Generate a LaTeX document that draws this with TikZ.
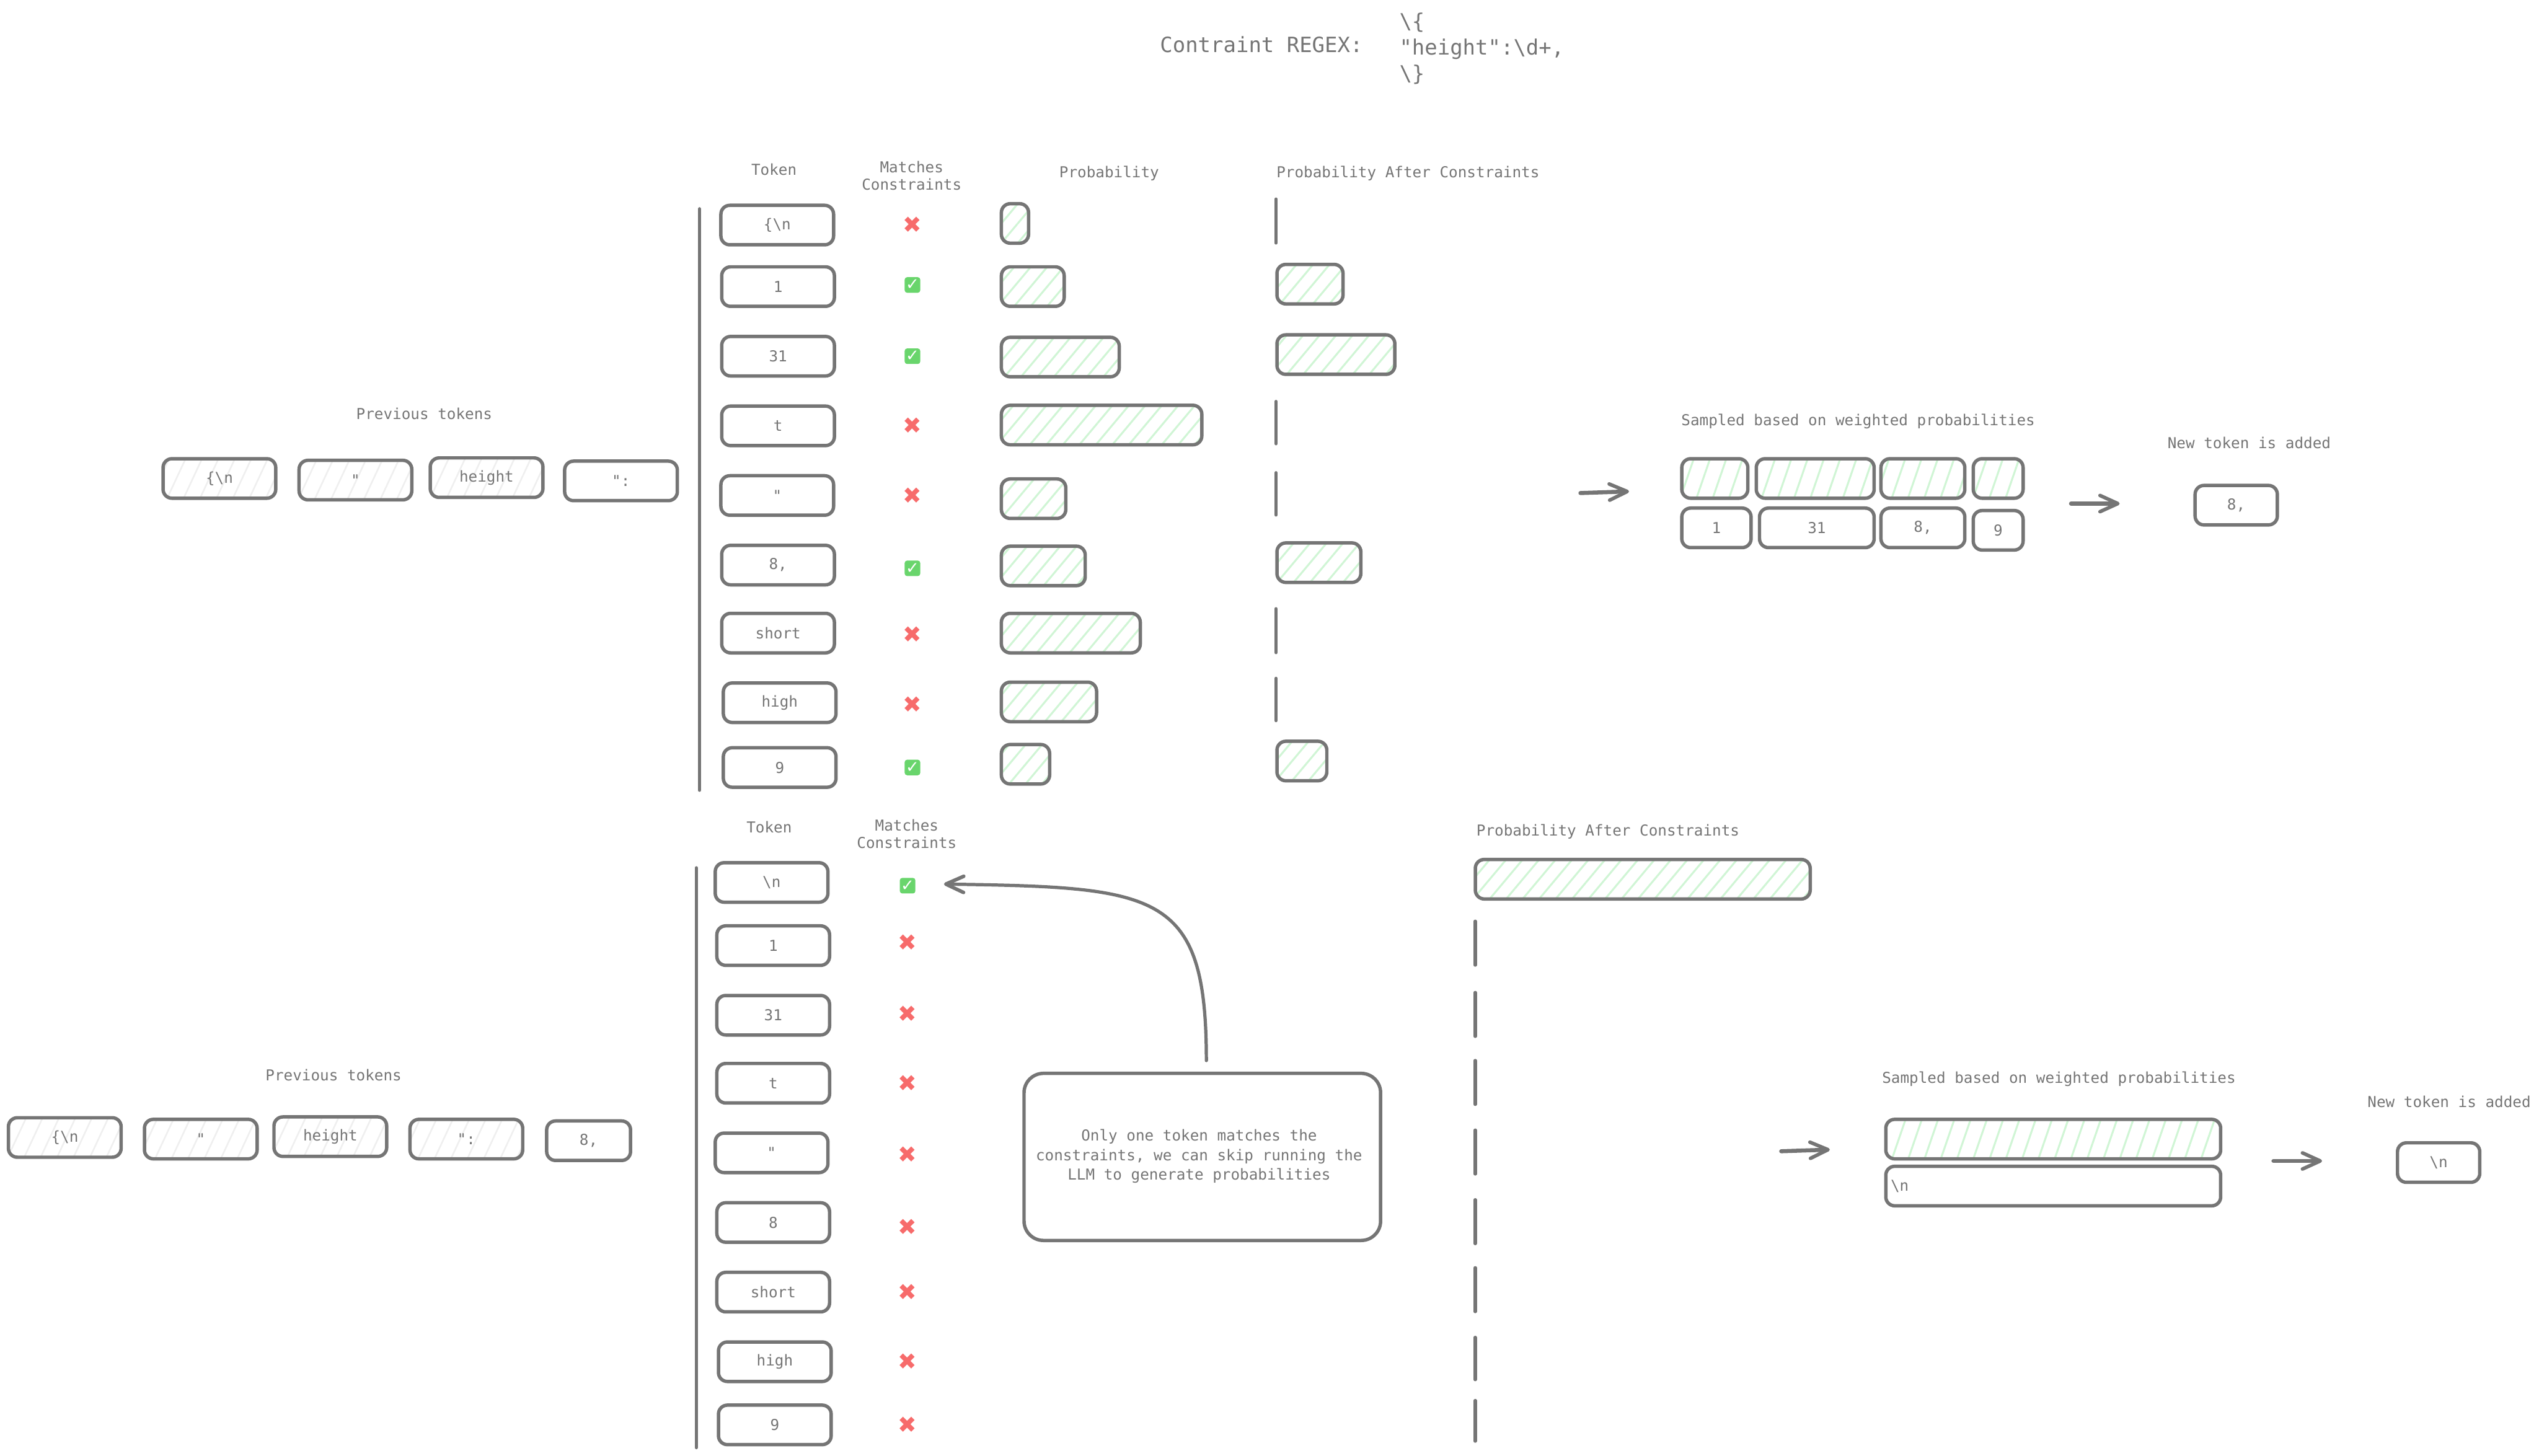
\documentclass[tikz,border=0pt]{standalone}
\usepackage{fontspec}
\setmonofont{DejaVu Sans Mono}
\newfontfamily\symbfont{DejaVu Sans}
\usetikzlibrary{arrows.meta,patterns.meta}
\definecolor{ink}{HTML}{757575}
\definecolor{hatchgreen}{HTML}{D0F5D5}
\definecolor{hatchgray}{HTML}{EFEFEF}
\definecolor{okgreen}{HTML}{69D56C}
\definecolor{badred}{HTML}{F76B6B}

\begin{document}
\begin{tikzpicture}[x=1pt, y=-1pt,
  tok/.style={draw=ink, line width=2.1pt, rounded corners=5.5pt, inner sep=0pt,
              minimum width=69.6pt, minimum height=24.4pt,
              text=ink, font=\ttfamily\fontsize{9.3}{11}\selectfont},
  prevtok/.style={tok, pattern={Lines[angle=65,distance=9.2pt,line width=1pt]}, pattern color=hatchgray},
  prob/.style={tok, pattern={Lines[angle=50,distance=7.8pt,line width=1.2pt]}, pattern color=hatchgreen},
  sampled/.style={tok, pattern={Lines[angle=71,distance=9.5pt,line width=1.2pt]}, pattern color=hatchgreen},
  lbl/.style={align=center, inner sep=0pt, text=ink, font=\ttfamily\fontsize{9.3}{11}\selectfont},
  bigl/.style={align=left, inner sep=0pt, text=ink, font=\ttfamily\fontsize{13}{16}\selectfont},
  nomatch/.style={inner sep=0pt, text=badred, font=\symbfont\fontsize{14}{14}\selectfont},
  match/.style={fill=okgreen, rounded corners=1.5pt, inner sep=0pt, minimum width=9.6pt, minimum height=9.6pt,
                text=white, font=\symbfont\fontsize{10}{10}\selectfont},
  zero/.style={draw=ink, line width=2.1pt, line cap=round},
  arr/.style={draw=ink, line width=2.5pt, line cap=round, -{Straight Barb[length=11pt,width=10pt,line width=2.2pt,round]}}
]
  \useasboundingbox (0,0) rectangle (1568,899.2);

  % Regex at the top
  \node[bigl] at (779,27.5) (regexlbl) {Contraint REGEX:};
  \node[bigl, anchor=west] at (864,30) (regex) {\textbackslash\{\\"height":\textbackslash d+,\\\textbackslash\}};

  % First table: headers
  \node[lbl] at (478,104.5) (h1tok) {Token};
  \node[lbl] at (563,108.5) (h1match) {Matches\\Constraints};
  \node[lbl] at (685,107.2) (h1prob) {Probability};
  \node[lbl] at (869.5,107.2) (h1after) {Probability After Constraints};

  % First table: tokens
  \draw[zero] (432,129) -- (432,488);
  \node[tok] at (480,139)     (a1) {\{\textbackslash n};
  \node[tok] at (480.5,177)   (a2) {1};
  \node[tok] at (480.5,220)   (a3) {31};
  \node[tok] at (480.5,263)   (a4) {t};
  \node[tok] at (480,306)     (a5) {"};
  \node[tok] at (480.5,349)   (a6) {8,};
  \node[tok] at (480.5,391)   (a7) {short};
  \node[tok] at (481.5,434)   (a8) {high};
  \node[tok] at (481.5,474)   (a9) {9};

  % First table: matches
  \node[nomatch] at (563.5,139) (ma1) {✖};
  \node[match]   at (563.5,176) (ma2) {✓};
  \node[match]   at (563.5,220) (ma3) {✓};
  \node[nomatch] at (563.5,263) (ma4) {✖};
  \node[nomatch] at (563.5,306) (ma5) {✖};
  \node[match]   at (563.5,351) (ma6) {✓};
  \node[nomatch] at (563.5,392) (ma7) {✖};
  \node[nomatch] at (563.5,435) (ma8) {✖};
  \node[match]   at (563.5,474) (ma9) {✓};

  % First table: probability
  \node[prob, minimum width=16.8pt] at (626.8,138)    (pa1) {};
  \node[prob, minimum width=38.8pt] at (637.8,177)    (pa2) {};
  \node[prob, minimum width=72.8pt] at (654.8,220.5)  (pa3) {};
  \node[prob, minimum width=123.8pt] at (680.3,262.5) (pa4) {};
  \node[prob, minimum width=39.8pt] at (638.3,308)  (pa5) {};
  \node[prob, minimum width=51.8pt] at (644.3,349.5) (pa6) {};
  \node[prob, minimum width=85.8pt] at (661.3,391)  (pa7) {};
  \node[prob, minimum width=58.8pt] at (647.8,433.5)  (pa8) {};
  \node[prob, minimum width=29.8pt] at (633.3,472)  (pa9) {};

  % First table: after constraints
  \draw[zero] (788,123) -- (788,150);
  \node[prob, minimum width=40.8pt] at (809,175.5)  (ca2) {};
  \node[prob, minimum width=72.8pt] at (825,219)    (ca3) {};
  \draw[zero] (788,248) -- (788,274);
  \draw[zero] (788,292) -- (788,318);
  \node[prob, minimum width=51.8pt] at (814.5,347.5) (ca6) {};
  \draw[zero] (788,376) -- (788,403);
  \draw[zero] (788,419) -- (788,445);
  \node[prob, minimum width=30.8pt] at (804,470)    (ca9) {};

  % First row: previous tokens
  \node[lbl] at (262,255.5) (h1prev) {Previous tokens};
  \node[prevtok] at (135.5,295.5) (pv1) {\{\textbackslash n};
  \node[prevtok] at (219.5,296.5) (pv2) {"};
  \node[prevtok] at (300.5,295)   (pv3) {height};
  \node[tok]     at (383.5,297)   (pv4) {":};

  % First row: sampling
  \coordinate (s1from) at (976,304.5);
  \coordinate (s1to)   at (1006,303.5);
  \draw[arr] (s1from) -- (s1to);
  \node[lbl] at (1147.5,260.2) (h1samp) {Sampled based on weighted probabilities};
  \node[sampled, minimum width=40.8pt] at (1059,295.5)   (sa1) {};
  \node[sampled, minimum width=72.8pt] at (1121,295.5)   (sa2) {};
  \node[sampled, minimum width=51.8pt] at (1187.5,295.5) (sa3) {};
  \node[sampled, minimum width=30.8pt] at (1234,295.5)   (sa4) {};
  \node[tok, minimum width=42.8pt]  at (1060,326)     (sb1) {1};
  \node[tok, minimum width=70.8pt]  at (1122,326)     (sb2) {31};
  \node[tok, minimum width=51.8pt]  at (1187.5,326)   (sb3) {8,};
  \node[tok, minimum width=30.8pt]  at (1234,327.5)   (sb4) {9};
  \coordinate (n1from) at (1279,311);
  \coordinate (n1to)   at (1309,311);
  \draw[arr] (n1from) -- (n1to);
  \node[lbl] at (1389,273.5) (h1new) {New token is added};
  \node[tok, minimum width=50.8pt] at (1381,312) (new1) {8,};

  % Second table: headers
  \node[lbl] at (475,511) (h2tok) {Token};
  \node[lbl] at (560,515) (h2match) {Matches\\Constraints};
  \node[lbl] at (993,513.5) (h2after) {Probability After Constraints};

  % Second table: tokens
  \draw[zero] (430,536) -- (430,894);
  \node[tok] at (476.5,545) (b1) {\textbackslash n};
  \node[tok] at (477.5,584) (b2) {1};
  \node[tok] at (477.5,627) (b3) {31};
  \node[tok] at (477.5,669) (b4) {t};
  \node[tok] at (476.5,712) (b5) {"};
  \node[tok] at (477.5,755) (b6) {8};
  \node[tok] at (477.5,798) (b7) {short};
  \node[tok] at (478.5,841) (b8) {high};
  \node[tok] at (478.5,880) (b9) {9};

  % Second table: matches
  \node[match]   at (560.5,547) (mb1) {✓};
  \node[nomatch] at (560.5,582) (mb2) {✖};
  \node[nomatch] at (560.5,626) (mb3) {✖};
  \node[nomatch] at (560.5,669) (mb4) {✖};
  \node[nomatch] at (560.5,713) (mb5) {✖};
  \node[nomatch] at (560.5,758) (mb6) {✖};
  \node[nomatch] at (560.5,798) (mb7) {✖};
  \node[nomatch] at (560.5,841) (mb8) {✖};
  \node[nomatch] at (560.5,880) (mb9) {✖};

  % Second table: after constraints
  \node[prob, minimum width=206.8pt] at (1014.5,543) (cb1) {};
  \draw[zero] (911,569) -- (911,596);
  \draw[zero] (911,613) -- (911,640);
  \draw[zero] (911,655) -- (911,682);
  \draw[zero] (911,698) -- (911,725);
  \draw[zero] (911,741) -- (911,768);
  \draw[zero] (911,783) -- (911,810);
  \draw[zero] (911,826) -- (911,852);
  \draw[zero] (911,865) -- (911,890);

  % Note and its arrow
  \node[tok, rounded corners=12pt, minimum width=220.2pt, minimum height=103.2pt]
      at (742.5,714.5) (note) {\kern-4pt\raisebox{-1pt}{\begin{tabular}{@{}c@{}}Only one token matches the\\[1pt]constraints, we can skip running the\\[1pt]LLM to generate probabilities\end{tabular}}};
  \coordinate (notetail) at (745,655);
  \coordinate (notehead) at (583,546);
  \draw[arr, line width=2pt] (notetail) .. controls (745,550) and (715,548) .. (notehead);

  % Second row: previous tokens
  \node[lbl] at (206,664) (h2prev) {Previous tokens};
  \node[prevtok] at (40,702.5)  (pw1) {\{\textbackslash n};
  \node[prevtok] at (124,703.5) (pw2) {"};
  \node[prevtok] at (204,702)   (pw3) {height};
  \node[prevtok] at (288,703.5) (pw4) {":};
  \node[tok, minimum width=51.8pt] at (363.5,704.5) (pw5) {8,};

  % Second row: sampling
  \coordinate (s2from) at (1100,711);
  \coordinate (s2to)   at (1130,710);
  \draw[arr] (s2from) -- (s2to);
  \node[lbl] at (1271.5,666.5) (h2samp) {Sampled based on weighted probabilities};
  \node[sampled, minimum width=206.8pt] at (1268,703.5) (sc1) {};
  \node[tok, text width=200.8pt, align=left, inner xsep=3pt] at (1268,732.5) (sd1) {\textbackslash n};
  \coordinate (n2from) at (1404,717);
  \coordinate (n2to)   at (1434,717);
  \draw[arr] (n2from) -- (n2to);
  \node[lbl] at (1512.5,680.5) (h2new) {New token is added};
  \node[tok, minimum width=50.8pt] at (1506,718) (new2) {\textbackslash n};
\end{tikzpicture}
\end{document}
